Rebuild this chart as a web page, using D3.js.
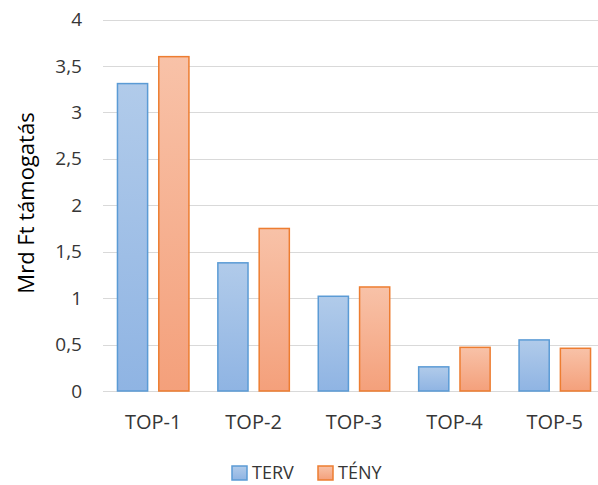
<!DOCTYPE html>
<html>
<head>
<meta charset="utf-8">
<script src="https://cdn.jsdelivr.net/npm/d3@7"></script>
<style>
  body { margin: 0; background: #fff; }
  text { font-family: "Open Sans", "Noto Sans", sans-serif; fill: #363636; }
</style>
</head>
<body>
<div id="chart"></div>
<script>
// data
var categories = ["TOP-1", "TOP-2", "TOP-3", "TOP-4", "TOP-5"];
var seriesNames = ["TERV", "TÉNY"];
var terv = [3.31, 1.38, 1.02, 0.26, 0.55];
var teny = [3.60, 1.75, 1.12, 0.47, 0.46];
var yTicks = [0, 0.5, 1, 1.5, 2, 2.5, 3, 3.5, 4];

var W = 598, H = 485;
var svg = d3.select("#chart").append("svg")
    .attr("width", W)
    .attr("height", H);

var defs = svg.append("defs");
function grad(id, top, bottom) {
  var g = defs.append("linearGradient").attr("id", id)
    .attr("x1", 0).attr("y1", 0).attr("x2", 0).attr("y2", 1);
  g.append("stop").attr("offset", "0%").attr("stop-color", top);
  g.append("stop").attr("offset", "100%").attr("stop-color", bottom);
}
grad("gBlue", "#b1cbea", "#8fb4e3");
grad("gOrange", "#f8c2a8", "#f4a07b");
var fills = ["url(#gBlue)", "url(#gOrange)"];
var strokes = ["#5b9bd5", "#ed7d31"];

var x = d3.scaleBand()
  .domain(categories)
  .range([103, 605]);

var x1 = d3.scaleBand()
  .domain(seriesNames)
  .range([0, x.bandwidth()])
  .paddingInner(0.27)
  .paddingOuter(0.35);

var y = d3.scaleLinear()
  .domain([0, 4])
  .range([391, 19.5]);

// gridlines
svg.append("g")
  .selectAll("line")
  .data(yTicks)
  .enter().append("line")
    .attr("x1", 103).attr("x2", W)
    .attr("y1", function(d) { return Math.round(y(d)) + 0.5; })
    .attr("y2", function(d) { return Math.round(y(d)) + 0.5; })
    .attr("stroke", "#d9d9d9")
    .attr("stroke-width", 1);

// y axis labels
var fmt = function(d) { return String(d).replace(".", ","); };
svg.append("g")
  .selectAll("text")
  .data(yTicks)
  .enter().append("text")
    .attr("x", 82)
    .attr("y", function(d) { return y(d); })
    .attr("dy", "0.35em")
    .attr("text-anchor", "end")
    .style("font-size", "19px")
    .text(fmt);

// x axis labels
svg.append("g")
  .selectAll("text")
  .data(categories)
  .enter().append("text")
    .attr("x", function(d) { return x(d) + x.bandwidth() / 2; })
    .attr("y", 429)
    .attr("text-anchor", "middle")
    .style("font-size", "20px")
    .text(function(d) { return d; });

// bars
var rows = categories.map(function(c, i) {
  return { cat: c, vals: [terv[i], teny[i]] };
});

var groups = svg.append("g")
  .selectAll("g")
  .data(rows)
  .enter().append("g")
    .attr("transform", function(d) { return "translate(" + x(d.cat) + ",0)"; });

groups.selectAll("rect")
  .data(function(d) { return d.vals.map(function(v, j) { return { v: v, s: seriesNames[j], j: j }; }); })
  .enter().append("rect")
    .attr("x", function(d) { return x1(d.s); })
    .attr("y", function(d) { return y(d.v); })
    .attr("width", x1.bandwidth())
    .attr("height", function(d) { return y(0) - y(d.v); })
    .attr("fill", function(d) { return fills[d.j]; })
    .attr("stroke", function(d) { return strokes[d.j]; })
    .attr("stroke-width", 1.5);

// y axis title
svg.append("text")
  .attr("transform", "translate(34,203) rotate(-90)")
  .attr("text-anchor", "middle")
  .style("font-size", "22px")
  .style("fill", "#000")
  .text("Mrd Ft támogatás");

// legend
var legX = [232, 318];
var leg = svg.append("g")
  .selectAll("g")
  .data(seriesNames)
  .enter().append("g")
    .attr("transform", function(d, i) { return "translate(" + legX[i] + ",466)"; });
leg.append("rect")
  .attr("width", 15).attr("height", 14)
  .attr("fill", function(d, i) { return fills[i]; })
  .attr("stroke", function(d, i) { return strokes[i]; })
  .attr("stroke-width", 1.5);
leg.append("text")
  .attr("x", 20).attr("y", 7)
  .attr("dy", "0.35em")
  .style("font-size", "18px")
  .text(function(d) { return d; });
</script>
</body>
</html>
